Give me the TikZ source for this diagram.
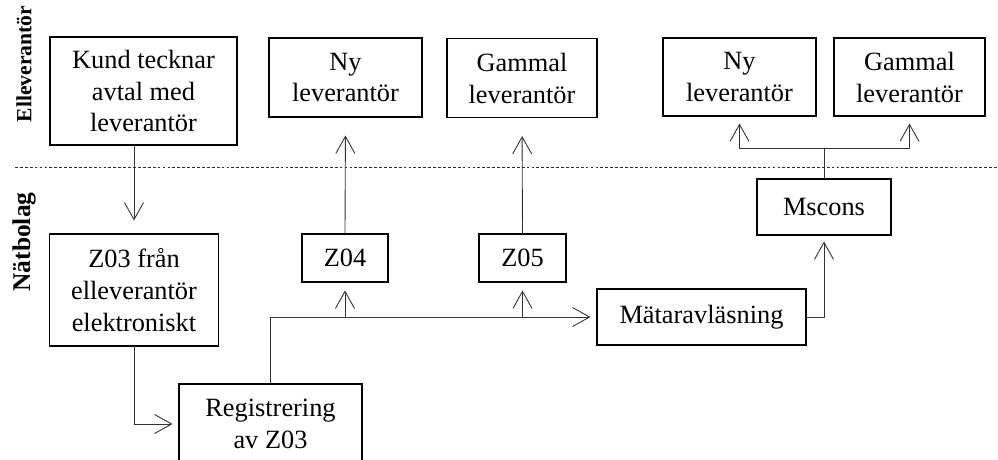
\documentclass[tikz,border=0pt]{standalone}
\usepackage{fontspec}
\setmainfont{Liberation Serif}
\usetikzlibrary{arrows.meta}
\tikzset{
  box/.style={draw=black, line width=0.6pt, rectangle, align=center, inner sep=2pt, font=\fontsize{15}{18.2}\selectfont},
  flow/.style={-{Straight Barb[length=3.4mm, width=3.8mm]}, line width=0.5pt, draw=black!80, shorten >=0.12cm},
  link/.style={line width=0.5pt, draw=black!80},
  divider/.style={densely dashed, dash pattern=on 1.6pt off 1.2pt, line width=0.5pt, draw=black!80},
  side/.style={rotate=90, font=\fontsize{14.5}{16}\selectfont\bfseries}
}

\begin{document}
\begin{tikzpicture}[x=0.02cm, y=-0.02cm]
  \useasboundingbox (0,0) rectangle (998,460);

  % lanes
  \node[side, font=\fontsize{12.3}{14}\selectfont\bfseries] (lanetop) at (24,64) {Elleverantör};
  \node[side] (lanebot) at (24,242) {Nätbolag};
  \coordinate (divl) at (15,167);
  \coordinate (divr) at (998,167);
  \draw[divider] (divl) -- (divr);

  % boxes
  \node[box, minimum width=3.74cm, minimum height=2.16cm] (kund) at (143.5,91) {Kund tecknar\\avtal med\\leverantör};
  \node[box, minimum width=3.38cm, minimum height=2.24cm] (z03) at (134,290) {Z03 från\\elleverantör\\elektroniskt};
  \node[box, minimum width=3.66cm, minimum height=1.6cm] (reg) at (270.5,424) {Registrering\\av Z03};
  \node[box, minimum width=1.72cm, minimum height=0.96cm] (z04) at (345,258) {Z04};
  \node[box, minimum width=1.74cm, minimum height=0.96cm] (z05) at (522.5,258) {Z05};
  \node[box, minimum width=4.18cm, minimum height=1.12cm] (mat) at (701.5,317) {Mätaravläsning};
  \node[box, minimum width=2.68cm, minimum height=1.12cm] (mscons) at (824,207) {Mscons};
  \node[box, minimum width=3.06cm, minimum height=1.58cm] (ny1) at (345.5,77.5) {Ny\\leverantör};
  \node[box, minimum width=3.0cm, minimum height=1.58cm] (gam1) at (522,78) {Gammal\\leverantör};
  \node[box, minimum width=3.06cm, minimum height=1.56cm] (ny2) at (739.5,77) {Ny\\leverantör};
  \node[box, minimum width=3.02cm, minimum height=1.56cm] (gam2) at (909.5,77) {Gammal\\leverantör};

  % connectors
  \draw[flow, shorten >=0.26cm] (z03.north |- kund.south) -- (z03.north);
  \draw[flow] (z03.south) |- (reg.west);
  \draw[flow] (reg.north) |- (mat.west);
  \coordinate (j1) at (z04.south |- mat.west);
  \coordinate (j2) at (z05.south |- mat.west);
  \draw[flow, shorten >=0.16cm] (j1) -- (z04.south);
  \draw[flow, shorten >=0.16cm] (j2) -- (z05.south);
  \draw[flow, shorten >=0.36cm] (z04.north) -- (ny1.south);
  \draw[flow, shorten >=0.36cm] (z05.north) -- (gam1.south);
  \draw[flow] (mat.east) -| (mscons.south);
  \coordinate (split) at (mscons.north |- 0,148);
  \draw[link] (mscons.north) -- (split);
  \draw[flow, shorten >=0.14cm] (split) -| (ny2.south);
  \draw[flow, shorten >=0.14cm] (split) -| (gam2.south);
\end{tikzpicture}
\end{document}
